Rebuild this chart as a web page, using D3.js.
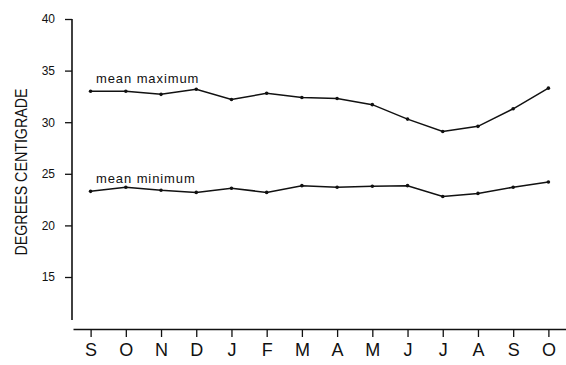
<!DOCTYPE html>
<html lang="en">
<head>
    <meta charset="UTF-8">
    <title>Mean maximum and minimum temperature</title>
    <style>
        body { margin: 0; background: #fff; }
        svg { display: block; }
        .axis text { fill: #111; }
        .axis path, .axis line { stroke: #111; }
    </style>
    <script src="https://d3js.org/d3.v7.min.js"></script>
</head>
<body>
<div id="chart"></div>
<script>
    // months (Sep to Oct of the following year)
    const months = ["S", "O", "N", "D", "J", "F", "M", "A", "M", "J", "J", "A", "S", "O"];
    const meanMax = [33.0, 33.0, 32.7, 33.2, 32.2, 32.8, 32.4, 32.3, 31.7, 30.3, 29.1, 29.6, 31.3, 33.3];
    const meanMin = [23.3, 23.7, 23.4, 23.2, 23.6, 23.2, 23.85, 23.7, 23.8, 23.85, 22.8, 23.1, 23.7, 24.2];
    const yTicks = [15, 20, 25, 30, 35, 40];

    const width = 566, height = 365;

    const svg = d3.select("#chart").append("svg")
        .attr("width", width)
        .attr("height", height);

    const x = d3.scalePoint()
        .domain(d3.range(months.length))
        .range([73, 566])
        .padding(0.5);

    const y = d3.scaleLinear()
        .domain([40, 15])
        .range([19, 277]);

    // y axis
    const yAxis = svg.append("g")
        .attr("class", "axis")
        .attr("transform", "translate(72,0)")
        .call(d3.axisLeft(y).tickValues(yTicks).tickSize(7).tickSizeOuter(0))
        .call(g => g.select(".domain").remove());
    yAxis.selectAll("text")
        .attr("font-family", "'Liberation Sans Narrow', 'Liberation Sans', sans-serif")
        .attr("font-size", 12)
        .attr("x", -17);
    yAxis.selectAll("line").attr("stroke-width", 1.3);
    svg.append("line")
        .attr("x1", 72).attr("x2", 72)
        .attr("y1", y(40)).attr("y2", 320)
        .attr("stroke", "#111").attr("stroke-width", 1.6);

    // x axis
    const xAxis = svg.append("g")
        .attr("class", "axis")
        .attr("transform", "translate(0,329)")
        .call(d3.axisBottom(x).tickFormat(i => months[i]).tickSize(8).tickSizeOuter(0));
    xAxis.select(".domain").attr("stroke-width", 1.6);
    xAxis.selectAll("line").attr("stroke-width", 1.3);
    xAxis.selectAll("text")
        .attr("font-family", "'Liberation Sans', Arial, sans-serif")
        .attr("font-size", 18)
        .attr("y", 14);

    // y axis title
    svg.append("text")
        .attr("transform", "translate(27,172) rotate(-90)")
        .attr("text-anchor", "middle")
        .attr("font-family", "'Liberation Sans', Arial, sans-serif")
        .attr("font-size", 16)
        .attr("textLength", 167)
        .attr("lengthAdjust", "spacingAndGlyphs")
        .attr("fill", "#111")
        .text("DEGREES CENTIGRADE");

    const line = d3.line()
        .x((d, i) => x(i))
        .y(d => y(d));

    [meanMax, meanMin].forEach(series => {
        svg.append("path")
            .datum(series)
            .attr("d", line)
            .attr("fill", "none")
            .attr("stroke", "#111")
            .attr("stroke-width", 1.5);
        svg.append("g")
            .selectAll("circle")
            .data(series)
            .join("circle")
            .attr("cx", (d, i) => x(i))
            .attr("cy", d => y(d))
            .attr("r", 1.8)
            .attr("fill", "#111");
    });

    // series labels
    const labels = [
        { text: "mean maximum", y: 83 },
        { text: "mean minimum", y: 183 }
    ];
    svg.append("g")
        .selectAll("text")
        .data(labels)
        .join("text")
        .attr("x", 96)
        .attr("y", d => d.y)
        .attr("font-family", "'Liberation Sans', Arial, sans-serif")
        .attr("font-size", 13)
        .attr("letter-spacing", 0.9)
        .attr("fill", "#111")
        .text(d => d.text);
</script>
</body>
</html>
